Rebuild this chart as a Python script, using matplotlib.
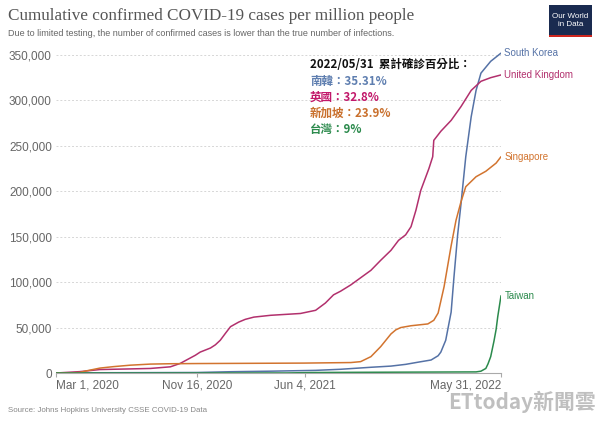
import matplotlib
matplotlib.use("Agg")
import matplotlib.pyplot as plt
import pandas as pd
from matplotlib.patches import Rectangle

# ---------------- data (cumulative cases per million) ----------------
uk_dates = ["2020-03-01", "2020-04-14", "2020-05-21", "2020-07-16", "2020-08-22", "2020-09-28",
            "2020-10-16", "2020-11-13", "2020-11-22", "2020-12-11", "2020-12-20", "2020-12-29",
            "2021-01-08", "2021-01-17", "2021-02-01", "2021-02-13", "2021-03-01", "2021-04-01",
            "2021-05-26", "2021-06-23", "2021-07-11", "2021-07-26", "2021-08-08", "2021-08-27",
            "2021-10-03", "2021-10-21", "2021-11-09", "2021-11-23", "2021-12-06", "2021-12-16",
            "2021-12-25", "2022-01-03", "2022-01-18", "2022-01-25", "2022-01-27", "2022-02-09",
            "2022-02-28", "2022-03-18", "2022-04-06", "2022-04-24", "2022-05-12", "2022-05-31"]
uk_vals = [0, 1500, 3800, 4500, 5000, 6800,
           10500, 19500, 23000, 27500, 31000, 36000,
           44000, 51000, 56000, 59000, 61500, 63500,
           65500, 69000, 77000, 86000, 90000, 97000,
           113000, 124000, 135000, 146000, 152000, 161000,
           179000, 201000, 225000, 238000, 256000, 266000,
           278000, 293000, 311000, 321000, 325000, 328000]

kr_dates = ["2020-03-01", "2020-03-31", "2020-11-16", "2021-01-17", "2021-04-01", "2021-06-23",
            "2021-08-08", "2021-10-03", "2021-11-09", "2021-12-06", "2021-12-30", "2022-01-22",
            "2022-02-04", "2022-02-09", "2022-02-18", "2022-02-28", "2022-03-05", "2022-03-12",
            "2022-03-18", "2022-03-27", "2022-04-06", "2022-04-15", "2022-04-24", "2022-05-12",
            "2022-05-31"]
kr_vals = [0, 190, 560, 1400, 2000, 2900, 4100, 6300, 7600, 9500, 12000, 14300,
           19000, 23000, 36000, 67000, 104000, 152000, 185000, 238000, 282000, 311000, 330000,
           343000, 352000]

sg_dates = ["2020-03-01", "2020-04-01", "2020-04-14", "2020-04-25", "2020-05-21", "2020-06-15",
            "2020-07-16", "2020-08-22", "2020-09-28", "2020-11-16", "2021-06-01", "2021-08-27",
            "2021-09-14", "2021-10-03", "2021-10-21", "2021-11-09", "2021-11-18", "2021-11-27",
            "2021-12-16", "2022-01-16", "2022-01-27", "2022-02-04", "2022-02-15", "2022-02-28",
            "2022-03-09", "2022-03-18", "2022-03-27", "2022-04-15", "2022-05-03", "2022-05-22",
            "2022-05-31"]
sg_vals = [20, 200, 600, 2200, 5400, 7000,
           8600, 9800, 10200, 10400, 10900, 11500,
           12500, 18000, 29000, 43000, 47500, 50000,
           52000, 54000, 58000, 66000, 95000, 140000,
           168000, 188000, 205000, 216000, 222000, 231000,
           238000]

tw_dates = ["2020-03-01", "2021-05-01", "2021-06-15", "2021-08-15", "2022-04-15", "2022-04-24",
            "2022-05-03", "2022-05-07", "2022-05-12", "2022-05-18", "2022-05-22", "2022-05-25",
            "2022-05-31"]
tw_vals = [2, 50, 500, 700, 1200, 2000, 5000, 10000, 18000, 35000, 48000, 62000, 85000]

series_names = ["South Korea", "United Kingdom", "Singapore", "Taiwan"]
series_colors = ["#5572a6", "#b2306d", "#d2742f", "#2b8a4c"]

x_tick_dates = ["2020-03-01", "2020-11-16", "2021-06-04", "2022-05-31"]
x_tick_labels = ["Mar 1, 2020", "Nov 16, 2020", "Jun 4, 2021", "May 31, 2022"]
y_ticks = [0, 50000, 100000, 150000, 200000, 250000, 300000, 350000]

note_title = "2022/05/31  累計確診百分比："
note_lines = ["南韓：35.31%", "英國：32.8%", "新加坡：23.9%", "台灣：9%"]
note_colors = ["#5f7fb0", "#c2186a", "#c9702d", "#2b8a4c"]

# ---------------- figure ----------------
W, H = 600, 425
fig = plt.figure(figsize=(6, 4.25), dpi=100)
fig.patch.set_facecolor("white")

def fx(px):
    return px / W

def fy(py):
    return 1 - py / H

ax_left, ax_right, ax_bottom, ax_top = 56, 501, 373, 50.4
ax = fig.add_axes([fx(ax_left), fy(ax_bottom), fx(ax_right - ax_left), (ax_bottom - ax_top) / H])

sans = "Liberation Sans"
all_series = [(kr_dates, kr_vals), (uk_dates, uk_vals), (sg_dates, sg_vals), (tw_dates, tw_vals)]
for (d, v), name, c in zip(all_series, series_names, series_colors):
    dd = pd.to_datetime(d)
    ax.plot(dd, v, color=c, lw=1.1, solid_joinstyle="round", solid_capstyle="round")
    ax.annotate(name, xy=(dd[-1], v[-1]), xytext=(2.5, 0), textcoords="offset points",
                fontsize=7, color=c, family=sans, va="center", ha="left",
                annotation_clip=False)

ax.set_xlim(pd.Timestamp("2020-03-01"), pd.Timestamp("2022-05-31"))
ax.set_ylim(0, 355000)

for s in ["top", "right", "left"]:
    ax.spines[s].set_visible(False)
ax.spines["bottom"].set_color("#aaaaaa")
ax.spines["bottom"].set_linewidth(0.8)

ax.set_yticks(y_ticks)
ax.set_yticklabels([f"{t:,}" for t in y_ticks], family=sans, fontsize=8.5, color="#666666")
ax.tick_params(axis="y", length=0, pad=3)
for t in y_ticks[1:]:
    ax.axhline(t, color="#d6d6d6", lw=0.7, ls=(0, (2, 2)), zorder=0)

xt = pd.to_datetime(x_tick_dates)
ax.set_xticks(xt)
ax.set_xticklabels(x_tick_labels, family=sans, fontsize=8.5, color="#666666")
ax.tick_params(axis="x", length=3, color="#aaaaaa", pad=2)
labs = ax.get_xticklabels()
labs[0].set_ha("left")
labs[-1].set_ha("right")

# ---------------- text ----------------
fig.text(fx(8), fy(16), "Cumulative confirmed COVID-19 cases per million people",
         family="Liberation Serif", fontsize=12.3, color="#555555", va="center", ha="left")
fig.text(fx(8), fy(33), "Due to limited testing, the number of confirmed cases is lower than the true number of infections.",
         family=sans, fontsize=6.45, color="#666666", va="center", ha="left")
fig.text(fx(8), fy(410), "Source: Johns Hopkins University CSSE COVID-19 Data",
         family=sans, fontsize=5.65, color="#888888", va="center", ha="left")

# OWID logo
fig.patches.append(Rectangle((fx(549), fy(37)), fx(43), 32 / H, transform=fig.transFigure,
                             facecolor="#1a2b50", edgecolor="none"))
fig.patches.append(Rectangle((fx(549), fy(37)), fx(43), 2.5 / H, transform=fig.transFigure,
                             facecolor="#ce261e", edgecolor="none"))
fig.text(fx(570.5), fy(20.5), "Our World\nin Data", family=sans, fontsize=5.8, color="white",
         ha="center", va="center", linespacing=1.0)

# Chinese annotation
cjk = ["Noto Sans CJK TC", "DejaVu Sans"]
fig.text(fx(310), fy(65), note_title, family=cjk, fontsize=8.3, fontweight="bold",
         color="#111111", va="center", ha="left")
for i, (t, c) in enumerate(zip(note_lines, note_colors)):
    fig.text(fx(310), fy(81 + 16 * i), t, family=cjk, fontsize=8.3, fontweight="bold",
             color=c, va="center", ha="left")

# watermark
fig.text(fx(596), fy(402), "ETtoday新聞雲", family=cjk, fontsize=15, color="#b8b8b8",
         va="center", ha="right", fontweight="bold", alpha=0.9)

fig.savefig("out.png", dpi=100, facecolor="white")
